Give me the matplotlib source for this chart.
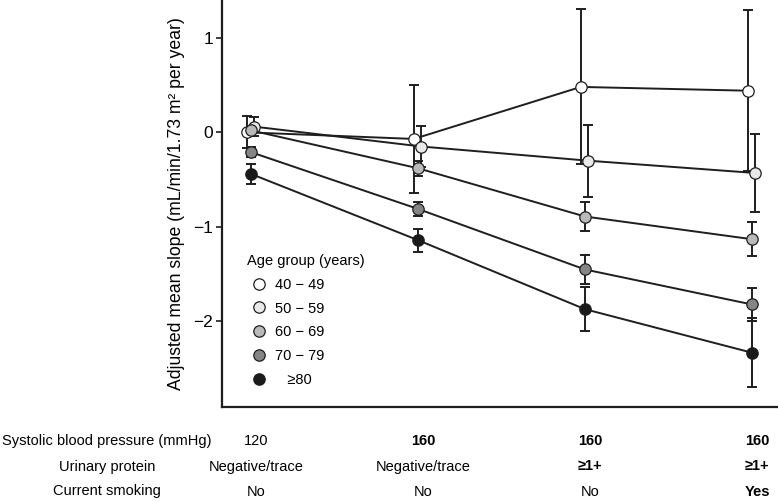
import matplotlib
matplotlib.use("Agg")
import matplotlib.pyplot as plt
from matplotlib.transforms import blended_transform_factory

plt.rcParams['font.family'] = ['Liberation Sans', 'DejaVu Sans']

# ---- data ----
groups = [0, 1, 2, 3]
age_labels = ["40 − 49", "50 − 59", "60 − 69", "70 − 79", "   ≥80"]
means_40 = [0.00, -0.07, 0.48, 0.44]
means_50 = [0.06, -0.15, -0.30, -0.43]
means_60 = [0.02, -0.38, -0.89, -1.13]
means_70 = [-0.21, -0.81, -1.45, -1.82]
means_80 = [-0.44, -1.14, -1.87, -2.33]
err_40 = [0.17, 0.57, 0.82, 0.85]
err_50 = [0.10, 0.22, 0.38, 0.41]
err_60 = [0.04, 0.08, 0.155, 0.18]
err_70 = [0.05, 0.07, 0.15, 0.175]
err_80 = [0.11, 0.12, 0.235, 0.365]
dodge = [-0.025, 0.02, 0.0, 0.0, 0.0]
face_colors = ["#ffffff", "#e9e9e9", "#b9b9b9", "#858585", "#1a1a1a"]

row_labels = ["Systolic blood pressure (mmHg)", "Urinary protein", "Current smoking"]
sbp = ["120", "160", "160", "160"]
protein = ["Negative/trace", "Negative/trace", "≥1+", "≥1+"]
smoking = ["No", "No", "No", "Yes"]
sbp_bold = [False, True, True, True]
protein_bold = [False, False, True, True]
smoking_bold = [False, False, False, True]

all_means = [means_40, means_50, means_60, means_70, means_80]
all_errs = [err_40, err_50, err_60, err_70, err_80]

W, H = 778, 501
fig = plt.figure(figsize=(W / 100, H / 100), dpi=100)
ax_left, ax_bottom = 222 / W, (H - 407) / H
ax = fig.add_axes([ax_left, ax_bottom, 1 - ax_left, 1 - ax_bottom])

edge = "#1e1e1e"
for i, (m, e) in enumerate(zip(all_means, all_errs)):
    xs = [g + dodge[i] for g in groups]
    ax.errorbar(xs, m, yerr=e, fmt='none', ecolor=edge, elinewidth=1.4,
                capsize=3.5, capthick=1.4, zorder=2 + i * 0.1)
    ax.plot(xs, m, color=edge, lw=1.4, zorder=2 + i * 0.1)
for i, m in enumerate(all_means):
    xs = [g + dodge[i] for g in groups]
    ax.plot(xs, m, linestyle='none', marker='o', markersize=8.2,
            markerfacecolor=face_colors[i], markeredgecolor=edge,
            markeredgewidth=0.9, zorder=5 + i * 0.1, label=age_labels[i])

ax.set_xlim(-0.174, 3.156)
ax.set_ylim(-2.904, 1.399)
ax.set_yticks([1, 0, -1, -2])
ax.set_yticklabels(["1", "0", "−1", "−2"])
ax.set_xticks([])
ax.tick_params(axis='y', labelsize=12.5, length=4, width=1.2, color=edge, pad=2.5)
for s in ['top', 'right']:
    ax.spines[s].set_visible(False)
for s in ['left', 'bottom']:
    ax.spines[s].set_linewidth(1.6)
    ax.spines[s].set_color(edge)
ax.set_ylabel("Adjusted mean slope (mL/min/1.73 m² per year)", fontsize=12.7, labelpad=6)

leg = ax.legend(title="Age group (years)", loc='upper left',
                bbox_to_anchor=(0.045, 0.376), frameon=False, fontsize=10.5,
                title_fontsize=10.5, handlelength=1.6, handletextpad=0.32,
                labelspacing=0.67, borderpad=0, borderaxespad=0)
leg._legend_box.align = "left"

# ---- table below the axis ----
trans = blended_transform_factory(ax.transData, fig.transFigure)
row_y = [1 - 441 / H, 1 - 466.5 / H, 1 - 491.5 / H]
rows = [(sbp, sbp_bold), (protein, protein_bold), (smoking, smoking_bold)]
for r, (label, (vals, bolds)) in enumerate(zip(row_labels, rows)):
    fig.text(107 / W, row_y[r], label, ha='center', va='center', fontsize=10.5)
    for g, v, b in zip(groups, vals, bolds):
        ax.text(g + 0.03, row_y[r], v, transform=trans, ha='center', va='center',
                fontsize=10.5, fontweight='bold' if b else 'normal', clip_on=False)

fig.savefig("out.png", dpi=100)
